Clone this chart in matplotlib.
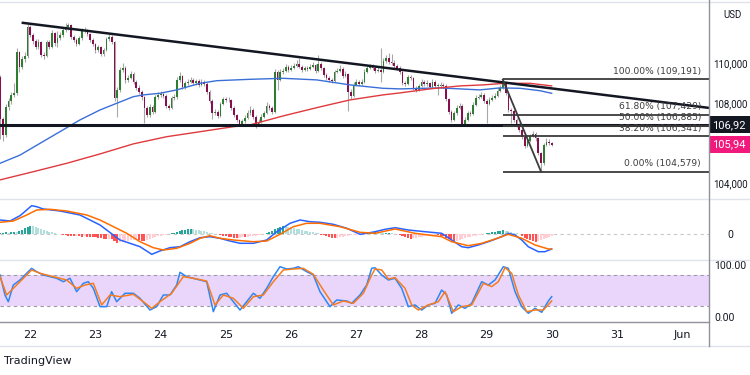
import numpy as np
import matplotlib
matplotlib.use("Agg")
import matplotlib.pyplot as plt
from matplotlib.lines import Line2D
from matplotlib.patches import Rectangle
from matplotlib.transforms import blended_transform_factory

plt.rcParams['font.family'] = ['DejaVu Sans']

# ---------------- data (hourly candles, hours relative to 22 May 00:00) ----------------
start_hour = -11
first_open = 109.30
close = [
    107.20, 106.40, 107.80, 108.10, 108.40, 108.50, 110.55, 109.80, 110.20, 110.35,
    111.80, 111.40, 111.10, 110.80, 111.05, 110.40, 110.35, 111.05, 110.80, 111.50,
    111.00, 111.25, 111.40, 111.65, 111.80, 111.90, 111.30, 111.15, 110.95, 111.25,
    111.65, 111.60, 111.45, 111.15, 110.95, 110.65, 110.80, 110.45, 110.65, 111.20,
    111.30, 111.05, 108.25, 108.65, 109.67, 109.75, 109.15, 109.27, 109.47, 109.07,
    108.77, 108.57, 108.30, 107.77, 107.40, 107.80, 107.57, 108.30, 108.40, 108.47,
    108.37, 107.87, 107.77, 108.27, 108.30, 109.17, 109.37, 108.80, 109.00, 109.07,
    109.17, 109.00, 109.10, 108.90, 109.07, 108.97, 108.57, 108.12, 107.50, 107.57,
    107.37, 107.97, 108.20, 108.17, 108.15, 107.77, 107.40, 107.15, 106.97, 107.10,
    107.27, 107.50, 107.67, 107.32, 106.97, 107.07, 107.32, 107.50, 107.87, 107.77,
    107.57, 109.57, 109.17, 109.57, 109.62, 109.82, 109.67, 109.77, 109.87, 109.97,
    109.82, 109.67, 109.77, 109.72, 109.82, 109.92, 109.62, 109.95, 109.75, 109.42,
    109.27, 109.17, 109.10, 109.57, 109.62, 109.72, 109.37, 109.47, 108.57, 108.37,
    108.92, 109.07, 108.97, 109.07, 109.57, 109.77, 109.82, 109.77, 109.62, 109.67,
    109.57, 110.10, 110.27, 110.07, 110.00, 109.87, 109.77, 109.57, 109.00, 108.97,
    109.30, 109.27, 108.77, 108.67, 108.87, 109.07, 108.97, 109.00, 108.82, 109.07,
    108.87, 108.87, 108.92, 108.87, 108.20, 107.57, 107.17, 107.50, 107.77, 107.87,
    106.97, 107.17, 107.50, 107.47, 107.92, 108.27, 108.32, 108.42, 108.12, 107.97,
    108.17, 108.27, 108.37, 108.62, 108.77, 109.07, 108.50, 107.67, 107.62, 107.17,
    106.92, 106.67, 106.32, 105.87, 106.12, 106.37, 106.47, 106.27, 105.50, 105.00,
    105.90, 106.07, 106.02, 105.94,
]
high = [
    109.40, 107.30, 107.95, 108.25, 108.55, 109.00, 110.75, 110.60, 110.35, 110.55,
    111.95, 111.90, 111.50, 111.20, 111.20, 111.10, 110.55, 111.15, 111.15, 111.65,
    111.55, 111.60, 111.55, 111.80, 112.00, 112.00, 111.95, 111.40, 111.25, 111.35,
    111.75, 111.80, 111.70, 111.50, 111.25, 111.00, 110.90, 110.85, 110.75, 111.30,
    111.45, 111.40, 111.10, 108.80, 109.80, 110.00, 109.85, 109.40, 109.60, 109.55,
    109.15, 108.90, 108.65, 108.35, 107.85, 107.95, 107.90, 108.40, 108.55, 108.60,
    108.55, 108.45, 107.95, 108.35, 108.45, 109.30, 109.55, 109.40, 109.10, 109.20,
    109.30, 109.25, 109.20, 109.20, 109.20, 109.15, 109.05, 108.65, 108.20, 107.70,
    107.65, 108.05, 108.30, 108.30, 108.30, 108.20, 107.85, 107.45, 107.20, 107.20,
    107.40, 107.65, 107.85, 107.75, 107.40, 107.20, 107.45, 107.60, 108.05, 107.95,
    107.85, 109.70, 109.65, 109.70, 109.75, 109.95, 109.90, 109.90, 110.00, 110.15,
    110.25, 109.90, 109.85, 109.85, 109.95, 110.05, 109.95, 110.40, 110.05, 109.80,
    109.50, 109.35, 109.25, 109.65, 109.75, 109.90, 109.80, 109.60, 109.50, 108.70,
    109.05, 109.20, 109.15, 109.20, 109.70, 109.90, 109.95, 109.95, 109.85, 109.80,
    110.75, 110.25, 110.40, 110.50, 110.45, 110.15, 109.95, 109.85, 109.65, 109.10,
    109.40, 109.40, 109.30, 108.85, 108.95, 109.20, 109.15, 109.15, 109.05, 109.20,
    109.15, 109.00, 109.05, 109.00, 108.95, 108.25, 107.65, 107.60, 107.90, 108.00,
    107.95, 107.30, 107.60, 107.60, 108.05, 108.40, 108.45, 108.55, 108.50, 108.20,
    108.30, 108.40, 108.50, 108.75, 108.90, 109.19, 109.10, 108.55, 107.75, 107.70,
    107.25, 107.00, 106.75, 106.40, 106.20, 106.45, 106.60, 106.55, 106.30, 105.55,
    106.00, 106.25, 106.20, 106.08,
]
low = [
    106.20, 106.10, 106.30, 107.65, 107.95, 108.30, 108.40, 109.55, 109.70, 110.05,
    110.25, 111.30, 110.95, 110.70, 110.70, 110.30, 110.20, 110.30, 110.70, 110.75,
    110.85, 110.80, 111.15, 111.30, 111.55, 111.65, 111.20, 111.05, 110.85, 110.90,
    111.15, 111.50, 111.35, 111.05, 110.85, 110.50, 110.55, 110.35, 110.35, 110.60,
    111.10, 110.95, 108.10, 107.30, 108.55, 109.55, 109.00, 109.05, 109.20, 108.95,
    108.65, 108.45, 108.15, 107.00, 107.30, 107.30, 107.45, 107.50, 108.20, 108.30,
    108.25, 107.75, 107.65, 107.70, 108.15, 108.20, 109.05, 108.70, 108.70, 108.90,
    109.00, 108.90, 108.90, 108.80, 108.85, 108.85, 108.45, 108.00, 107.20, 107.40,
    107.25, 107.30, 107.90, 108.05, 108.05, 107.65, 107.30, 107.05, 106.85, 106.85,
    107.00, 107.20, 107.40, 107.20, 106.75, 106.85, 107.00, 107.25, 107.45, 107.65,
    107.45, 107.50, 108.65, 109.10, 109.45, 109.55, 109.55, 109.60, 109.70, 109.80,
    109.75, 109.55, 109.60, 109.60, 109.65, 109.75, 109.50, 109.55, 109.65, 109.30,
    109.15, 109.05, 109.00, 109.05, 109.50, 109.55, 109.25, 109.30, 107.60, 108.20,
    108.30, 108.85, 108.85, 108.90, 109.00, 109.50, 109.70, 109.65, 109.50, 109.55,
    109.05, 109.50, 110.00, 109.95, 109.90, 109.75, 109.65, 109.45, 108.90, 108.85,
    108.90, 109.15, 108.65, 108.55, 108.60, 108.80, 108.85, 108.85, 108.70, 108.75,
    108.75, 108.40, 108.80, 108.75, 108.10, 107.45, 107.05, 107.10, 107.40, 107.70,
    106.85, 106.85, 107.10, 107.35, 107.40, 107.85, 108.20, 108.25, 108.00, 107.00,
    107.90, 108.10, 108.20, 108.30, 108.55, 108.70, 108.40, 107.55, 107.00, 107.05,
    106.80, 106.55, 106.20, 105.75, 105.80, 106.05, 106.30, 106.10, 105.40, 104.58,
    104.90, 105.85, 105.90, 105.88,
]

# moving averages (read points)
ma_blue_h = [-11.15, -3.8, 3.6, 10.9, 18.3, 25.7, 31.8, 37.9, 41.6, 47.7, 53.9, 62.5, 68.6,
             80.9, 93.0, 105.4, 117.7, 129.8, 136.1, 150.8, 165.5, 172.9, 180.3, 187.6, 191.9]
ma_blue_v = [105.0, 105.41, 106.0, 106.58, 107.17, 107.67, 108.0, 108.33, 108.42, 108.5, 108.67, 109.0, 109.13,
             109.2, 109.25, 109.17, 108.92, 108.75, 108.72, 108.77, 108.67, 108.77, 108.75, 108.63, 108.5]
ma_red_h = [-11.15, 1.1, 13.4, 25.7, 37.9, 50.2, 62.5, 74.7, 80.9, 93.1, 106.6, 117.7, 129.8,
            136.1, 147.1, 158.2, 166.6, 174.7, 183.9, 191.9]
ma_red_v = [104.17, 104.58, 105.0, 105.47, 105.97, 106.33, 106.58, 106.83, 106.92, 107.37, 107.82, 108.17, 108.42,
            108.52, 108.72, 108.87, 108.92, 109.0, 109.0, 108.87]

# MACD
macd_h = [-11.15, -7.47, -3.79, -1.33, 0.5, 2.34, 4.79, 10.93, 18.29, 25.66, 33.02, 36.7, 40.38, 44.7,
          47.7, 51.4, 55.1, 58.8, 62.5, 66.1, 69.8, 73.5, 77.2, 82.1, 87.0, 90.7, 93.1, 95.6, 99.3,
          102.9, 106.6, 111.5, 116.5, 121.4, 123.8, 126.9, 130.6, 134.3, 139.1, 145.3, 151.4, 155.1,
          158.8, 161.2, 164.9, 168.6, 173.5, 175.9, 178.4, 180.9, 183.3, 187.0, 189.4, 191.9]
macd_v = [0.143, 0.133, 0.186, 0.243, 0.286, 0.276, 0.253, 0.233, 0.193, 0.093, -0.057, -0.09, -0.124, -0.2,
          -0.167, -0.134, -0.124, -0.074, -0.034, -0.024, -0.04, -0.067, -0.09, -0.09, -0.057, 0.026, 0.066, 0.11, 0.143,
          0.126, 0.12, 0.1, 0.06, 0.0, 0.01, 0.026, 0.05, 0.066, 0.043, 0.026, 0.01, -0.057,
          -0.124, -0.134, -0.107, -0.074, -0.024, 0.01, -0.007, -0.057, -0.124, -0.174, -0.174, -0.147]
signal_h = [-11.15, -6.24, -1.33, 2.34, 7.25, 13.4, 20.8, 25.66, 30.6, 35.5, 40.38, 45.3, 49.0, 53.9,
            58.8, 62.5, 66.1, 69.8, 74.7, 82.1, 87.0, 91.9, 96.8, 101.7, 106.6, 114.0, 121.4, 126.9,
            134.3, 141.6, 151.4, 155.1, 161.2, 166.2, 171.1, 175.9, 180.9, 185.8, 190.7, 191.9]
signal_v = [0.12, 0.133, 0.193, 0.243, 0.25, 0.233, 0.193, 0.143, 0.076, 0.01, -0.074, -0.134, -0.157, -0.14,
            -0.09, -0.04, -0.014, -0.04, -0.057, -0.074, -0.067, 0.0, 0.076, 0.11, 0.11, 0.076, 0.02, 0.01,
            0.053, 0.01, -0.024, -0.074, -0.114, -0.09, -0.047, 0.0, -0.04, -0.107, -0.147, -0.147]
hist = [
    0.01, 0.015, 0.02, 0.015, 0.02, 0.025, 0.02,
    0.03, 0.045, 0.06, 0.075, 0.085,
    0.08, 0.07, 0.06, 0.05, 0.04, 0.03, 0.025, 0.02, 0.012, 0.008, 0.004,
    -0.005, -0.01, -0.015, -0.02, -0.02, -0.018, -0.02, -0.025, -0.02, -0.022, -0.025, -0.03, -0.03, -0.035,
    -0.04, -0.045, -0.05, -0.045, -0.05, -0.07, -0.085, -0.08, -0.075, -0.07, -0.065, -0.06, -0.055, -0.05,
    -0.06, -0.065, -0.07, -0.06, -0.05, -0.04, -0.03, -0.02,
    -0.015, -0.01, -0.005, 0.005, 0.01, 0.015, 0.02,
    0.03, 0.04, 0.045, 0.05, 0.055, 0.05, 0.045, 0.04,
    0.035, 0.03, 0.02, 0.015, 0.01, 0.005, 0.0,
    -0.01, -0.015, -0.02, -0.025, -0.03, -0.035, -0.04, -0.035, -0.03, -0.03, -0.025, -0.02,
    -0.018, -0.015, -0.01, -0.005, 0.0, 0.01,
    0.02, 0.035, 0.05, 0.065, 0.075, 0.085, 0.08, 0.075,
    0.07, 0.06, 0.055, 0.05, 0.04, 0.035, 0.03, 0.025, 0.02, 0.015, 0.01,
    -0.005, -0.01, -0.02, -0.03, -0.035, -0.04, -0.035, -0.03, -0.025, -0.02,
    -0.015, -0.01, -0.008, -0.005, 0.0, 0.005,
    0.008, 0.012, 0.015, 0.018, 0.02, 0.015, 0.012, 0.01, 0.012, 0.015, 0.012, 0.008, 0.004,
    -0.01, -0.02, -0.03, -0.04, -0.045, -0.04, -0.035, -0.03, -0.025, -0.02,
    -0.015, -0.012, -0.01, -0.008, -0.01, -0.015, -0.02,
    -0.035, -0.05, -0.06, -0.07, -0.065, -0.06, -0.05, -0.04,
    -0.03, -0.025, -0.02, -0.015, -0.01, -0.005,
    0.005, 0.01, 0.015, 0.02, 0.025, 0.03, 0.035, 0.04, 0.035, 0.03,
    0.02, 0.015, 0.01, 0.0,
    -0.02, -0.035, -0.05, -0.06, -0.07, -0.075, -0.07, -0.06,
    -0.045, -0.035, -0.025, -0.015,
]

# Stochastic
stoch_k_h = [-11.15, -9.31, -8.09, -6.25, -3.79, -1.34, 0.50, 2.34, 4.80, 7.25, 9.71, 12.16, 14.61, 17.07,
             19.52, 21.36, 23.20, 25.66, 28.11, 29.95, 31.79, 34.86, 37.92, 40.38, 44.06, 46.51, 48.97,
             51.42, 53.88, 55.10, 57.56, 62.47, 64.92, 67.37, 69.83, 72.28, 74.74, 77.19, 79.64, 82.10,
             84.55, 87.01, 89.46, 91.91, 94.37, 96.82, 98.66, 101.73, 104.18, 106.64, 109.09, 110.32,
             112.77, 116.45, 118.29, 121.36, 123.82, 125.66, 126.88, 129.34, 131.79, 134.25, 136.70,
             139.15, 141.61, 144.06, 146.52, 148.97, 151.42, 153.27, 155.11, 157.56, 160.02, 162.47,
             166.15, 168.60, 171.06, 174.12, 175.96, 178.42, 180.87, 183.33, 185.78, 188.24, 190.69, 191.92]
stoch_k_v = [80.6, 41.9, 28.9, 61.2, 70.9, 83.9, 93.5, 87.0, 80.6, 77.3, 74.2, 67.6, 74.2, 48.3,
             64.5, 67.6, 54.8, 19.3, 19.3, 48.3, 28.9, 45.2, 45.2, 35.5, 12.8, 19.3, 41.9,
             41.9, 61.2, 85.8, 77.3, 70.9, 67.6, 9.6, 41.9, 45.2, 28.9, 12.8, 28.9, 45.2,
             35.5, 54.8, 77.3, 96.6, 92.2, 93.5, 96.6, 87.0, 80.6, 48.3, 28.9, 19.3,
             32.2, 30.3, 25.8, 41.9, 61.2, 93.5, 94.7, 80.6, 70.9, 74.2, 54.8,
             19.3, 22.6, 12.8, 22.6, 25.8, 51.5, 41.9, 6.5, 22.6, 16.1, 25.8,
             67.6, 61.2, 70.9, 96.6, 93.5, 48.3, 19.3, 6.5, 16.1, 8.4, 30.3, 38.6]
stoch_d_h = [-11.15, -8.70, -6.86, -3.79, 0.50, 3.57, 8.48, 13.39, 17.07, 20.13, 23.20, 26.27, 29.34,
             33.02, 37.92, 41.60, 44.67, 47.74, 52.04, 56.33, 60.01, 64.92, 67.99, 71.06, 74.74, 78.42,
             82.10, 85.78, 89.46, 93.14, 96.82, 100.50, 104.18, 107.86, 111.54, 115.22, 118.91, 122.59,
             125.66, 126.88, 129.34, 131.79, 134.25, 137.93, 140.38, 142.84, 146.52, 150.20, 152.65,
             155.72, 158.79, 162.47, 166.76, 169.83, 172.28, 174.74, 177.19, 179.64, 182.71, 185.78,
             188.85, 191.92]
stoch_d_v = [77.3, 41.9, 51.5, 67.6, 90.3, 83.9, 77.3, 70.9, 54.8, 61.2, 64.5, 22.6, 41.9,
             38.6, 43.2, 28.9, 16.1, 28.9, 45.2, 77.3, 74.2, 68.9, 22.6, 41.9, 35.5, 16.1,
             38.6, 41.9, 67.6, 90.3, 92.2, 93.5, 81.9, 51.5, 22.6, 30.3, 25.8, 45.2,
             80.6, 92.2, 90.3, 72.8, 75.4, 54.8, 22.6, 12.8, 22.6, 28.9, 48.3,
             9.6, 19.3, 22.6, 64.5, 58.1, 67.6, 94.7, 83.9, 41.9, 9.6, 12.8,
             12.8, 30.3]

# drawings
trend_h = [-3.2, 249.8]
trend_v = [112.03, 107.77]
support_level = 106.92
fib_start_h = 174.0
fib_high = 109.191
fib_low = 104.579
fib_ratios = [1.0, 0.618, 0.5, 0.382, 0.0]
fib_swing_h = [173.9, 188.0]
last_price = 105.94

day_hours = [0, 24, 48, 72, 96, 120, 144, 168, 192, 216, 240]
day_labels = ['22', '23', '24', '25', '26', '27', '28', '29', '30', '31', 'Jun']
price_ticks = [110, 108, 104]
price_labels = ['110,000', '108,000', '104,000']
stoch_ticks = [100, 0]
stoch_labels = ['100.00', '0.00']

# ---------------- figure ----------------
W, H = 750, 375
fig = plt.figure(figsize=(W / 100, H / 100), dpi=100)
fig.patch.set_facecolor('white')

def box(x0, y0, x1, y1):
    return [x0 / W, 1 - y1 / H, (x1 - x0) / W, (y1 - y0) / H]

XL = (-11.15, 249.82)
ax = fig.add_axes(box(0, 2, 709, 199))
axm = fig.add_axes(box(0, 199, 709, 260))
axs = fig.add_axes(box(0, 260, 709, 322))
for a in (ax, axm, axs):
    a.set_xlim(*XL)
    for s in a.spines.values():
        s.set_visible(False)
    a.set_facecolor('none')
ax.set_ylim(103.215, 113.065)
axm.set_ylim(-0.257, 0.353)
axs.set_ylim(-10.4, 109.6)

TXT = '#131722'
RFONT = ['Roboto', 'DejaVu Sans']
# ---- candles ----
hours = np.arange(start_hour, start_hour + len(close))
o = np.array([first_open] + close[:-1])
c = np.array(close)
hi = np.array(high)
lo = np.array(low)
up = c >= o
bull, bear = '#2e7d32', '#880e4f'
ax.vlines(hours, lo, hi, color='#a8a8a8', lw=0.8, zorder=2)
ax.bar(hours, np.maximum(np.abs(c - o), 0.025), bottom=np.minimum(o, c), width=0.62,
       color=np.where(up, bull, bear), linewidth=0, zorder=3)

ax.plot(ma_blue_h, ma_blue_v, color='#3a6fd8', lw=1.0, zorder=4)
ax.plot(ma_red_h, ma_red_v, color='#e0393e', lw=1.0, zorder=4)

ax.plot(trend_h, trend_v, color=TXT, lw=1.8, zorder=5, solid_capstyle='butt')
ax.axhline(support_level, color=TXT, lw=2.2, zorder=5)

fib_prices = [fib_low + r * (fib_high - fib_low) for r in fib_ratios]
ax.hlines(fib_prices, fib_start_h, XL[1], color='#3c3c3c', lw=1.3, zorder=5)
ax.plot(fib_swing_h, [fib_high, fib_low], color='#3c3c3c', lw=1.3, zorder=5)
for r, p in zip(fib_ratios, fib_prices):
    lbl = f"{r * 100:.2f}% (" + f"{p:.3f}".replace('.', ',') + ")"
    ax.annotate(lbl, (246.9, p), xytext=(0, 2.5), textcoords='offset points',
                ha='right', va='bottom', fontsize=6.6, color='#3c3c3c', zorder=6)

ax.yaxis.tick_right()
ax.set_yticks(price_ticks, price_labels)
ax.tick_params(axis='y', length=0, pad=3, labelsize=7, labelcolor=TXT)
for t in ax.get_yticklabels():
    t.set_fontfamily(RFONT)
ax.tick_params(axis='x', bottom=False, labelbottom=False)

# price badges
tr = blended_transform_factory(ax.transAxes, ax.transData)
badge_h = 0.42
for lvl, txt, col in [(support_level, '106,92', '#131722'), (last_price, '105,94', '#f2197c')]:
    ax.add_patch(Rectangle((1.0, lvl - badge_h), 0.06, 2 * badge_h, transform=tr,
                           facecolor=col, edgecolor='none', clip_on=False, zorder=9))
    ax.text(1.0045, lvl, txt, transform=tr, ha='left', va='center', fontsize=8,
            color='white', clip_on=False, zorder=10, family=RFONT)

# ---- MACD ----
hcol = []
prev = 0.0
for v in hist:
    if v >= 0:
        hcol.append('#26a69a' if v >= prev else '#b2dfdb')
    else:
        hcol.append('#ff5252' if v <= prev else '#ffcdd2')
    prev = v
axm.axhline(0, color='#c8c8c8', lw=0.8, ls=(0, (3, 3)))
axm.bar(hours, hist, width=0.75, color=hcol, linewidth=0, zorder=2)
axm.plot(macd_h, macd_v, color='#2962ff', lw=1.1, zorder=3)
axm.plot(signal_h, signal_v, color='#ff6d00', lw=1.1, zorder=3)
axm.yaxis.tick_right()
axm.set_yticks([0], ['0'])
axm.tick_params(axis='y', length=0, pad=13, labelsize=7.5, labelcolor=TXT)
for t in axm.get_yticklabels():
    t.set_fontfamily(RFONT)
axm.tick_params(axis='x', bottom=False, labelbottom=False)

# ---- Stochastic ----
axs.axhspan(20, 80, color='#ead6fb', lw=0, zorder=0)
axs.axhline(80, color='#9a9aa5', lw=0.8, ls=(0, (3, 3)))
axs.axhline(20, color='#9a9aa5', lw=0.8, ls=(0, (3, 3)))
axs.plot(stoch_k_h, stoch_k_v, color='#2f86f6', lw=1.1, zorder=3)
axs.plot(stoch_d_h, stoch_d_v, color='#f57c1f', lw=1.1, zorder=3)
axs.yaxis.tick_right()
axs.set_yticks(stoch_ticks, stoch_labels)
axs.tick_params(axis='y', length=0, pad=4, labelsize=7.5, labelcolor=TXT)
for t in axs.get_yticklabels():
    t.set_fontfamily(RFONT)
axs.set_xticks(day_hours, day_labels)
axs.tick_params(axis='x', length=0, pad=6, labelsize=8, labelcolor=TXT)

# ---- frame lines ----
def fline(x0, y0, x1, y1, color, lw):
    fig.add_artist(Line2D([x0 / W, x1 / W], [1 - y0 / H, 1 - y1 / H], color=color, lw=lw,
                          transform=fig.transFigure))

fline(0, 1.5, 750, 1.5, '#e0e3eb', 1.0)
fline(0, 199, 750, 199, '#e0e3eb', 1.0)
fline(0, 260, 750, 260, '#e0e3eb', 1.0)
fline(0, 322, 709, 322, '#8f929b', 1.0)
fline(0, 346, 750, 346, '#e0e3eb', 1.0)
fline(709, 0, 709, 346, '#8f929b', 1.0)

fig.text(723 / W, 1 - 15 / H, 'USD', fontsize=7, color=TXT, va='center', family=RFONT)
fig.text(4 / W, 1 - 361 / H, 'TradingView', fontsize=8, color=TXT, va='center')

fig.savefig('out.png', dpi=100, facecolor='white')
